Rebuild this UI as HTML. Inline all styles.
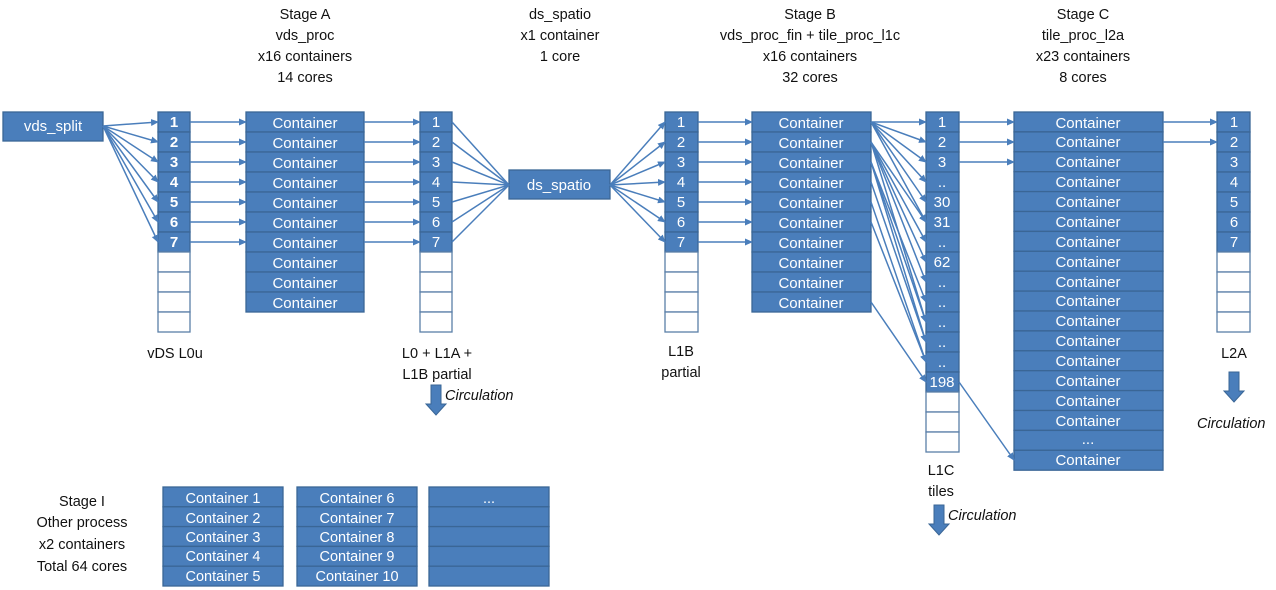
<!DOCTYPE html>
<html><head><meta charset="utf-8"><style>
html,body{margin:0;padding:0;background:#fff;width:1276px;height:590px;overflow:hidden}
svg{display:block}
text{font-family:"Liberation Sans",sans-serif;}
.h{font-size:14.5px;fill:#111;text-anchor:middle}
.w{font-size:15px;fill:#fff;text-anchor:middle}
.b{font-weight:bold}
.c{font-size:14.5px;fill:#fff;text-anchor:middle}
.i{font-size:14.5px;fill:#111;font-style:italic}
</style></head><body>
<svg id="s" width="1276" height="590" viewBox="0 0 1276 590" xmlns="http://www.w3.org/2000/svg">
<defs><marker id="a" markerWidth="8" markerHeight="8" refX="7" refY="4" orient="auto" markerUnits="userSpaceOnUse"><path d="M0,0.5 L8,4 L0,7.5 Z" fill="#4a7ebb"/></marker></defs>
<g id="shapes"></g>
<g id="lines" stroke="#4a7ebb" stroke-width="1.5" fill="none"></g>
<!-- headers -->
<text class="h" x="305" y="19">Stage A</text><text class="h" x="305" y="40">vds_proc</text><text class="h" x="305" y="61">x16 containers</text><text class="h" x="305" y="82">14 cores</text>
<text class="h" x="560" y="19">ds_spatio</text><text class="h" x="560" y="40">x1 container</text><text class="h" x="560" y="61">1 core</text>
<text class="h" x="810" y="19">Stage B</text><text class="h" x="810" y="40">vds_proc_fin +  tile_proc_l1c</text><text class="h" x="810" y="61">x16 containers</text><text class="h" x="810" y="82">32 cores</text>
<text class="h" x="1083" y="19">Stage C</text><text class="h" x="1083" y="40">tile_proc_l2a</text><text class="h" x="1083" y="61">x23 containers</text><text class="h" x="1083" y="82">8 cores</text>
<!-- labels -->
<text class="h" x="175" y="358">vDS L0u</text>
<text class="h" x="437" y="358">L0 + L1A +</text><text class="h" x="437" y="379">L1B partial</text>
<text class="h" x="681" y="356">L1B</text><text class="h" x="681" y="377">partial</text>
<text class="h" x="941" y="475">L1C</text><text class="h" x="941" y="496">tiles</text>
<text class="h" x="1234" y="358">L2A</text>
<text class="i" x="445" y="400">Circulation</text>
<text class="i" x="948" y="520">Circulation</text>
<text class="i" x="1197" y="428">Circulation</text>
<text class="h" x="82" y="506">Stage I</text><text class="h" x="82" y="527">Other process</text><text class="h" x="82" y="549">x2 containers</text><text class="h" x="82" y="571">Total 64 cores</text>
<g id="txt">
<text class="w" x="53" y="131">vds_split</text>
<text class="w" x="559" y="190">ds_spatio</text>
<text class="w b" x="174" y="127">1</text><text class="w b" x="174" y="147">2</text><text class="w b" x="174" y="167">3</text><text class="w b" x="174" y="187">4</text><text class="w b" x="174" y="207">5</text><text class="w b" x="174" y="227">6</text><text class="w b" x="174" y="247">7</text>
<text class="w" x="436" y="127">1</text><text class="w" x="436" y="147">2</text><text class="w" x="436" y="167">3</text><text class="w" x="436" y="187">4</text><text class="w" x="436" y="207">5</text><text class="w" x="436" y="227">6</text><text class="w" x="436" y="247">7</text>
<text class="w" x="681" y="127">1</text><text class="w" x="681" y="147">2</text><text class="w" x="681" y="167">3</text><text class="w" x="681" y="187">4</text><text class="w" x="681" y="207">5</text><text class="w" x="681" y="227">6</text><text class="w" x="681" y="247">7</text>
<text class="w" x="1234" y="127">1</text><text class="w" x="1234" y="147">2</text><text class="w" x="1234" y="167">3</text><text class="w" x="1234" y="187">4</text><text class="w" x="1234" y="207">5</text><text class="w" x="1234" y="227">6</text><text class="w" x="1234" y="247">7</text>
<text class="w" x="942" y="127">1</text><text class="w" x="942" y="147">2</text><text class="w" x="942" y="167">3</text><text class="w" x="942" y="187">..</text><text class="w" x="942" y="207">30</text><text class="w" x="942" y="227">31</text><text class="w" x="942" y="247">..</text><text class="w" x="942" y="267">62</text><text class="w" x="942" y="287">..</text><text class="w" x="942" y="307">..</text><text class="w" x="942" y="327">..</text><text class="w" x="942" y="347">..</text><text class="w" x="942" y="367">..</text><text class="w" x="942" y="387">198</text>
<text class="w" x="305" y="128">Container</text><text class="w" x="305" y="148">Container</text><text class="w" x="305" y="168">Container</text><text class="w" x="305" y="188">Container</text><text class="w" x="305" y="208">Container</text><text class="w" x="305" y="228">Container</text><text class="w" x="305" y="248">Container</text><text class="w" x="305" y="268">Container</text><text class="w" x="305" y="288">Container</text><text class="w" x="305" y="308">Container</text>
<text class="w" x="811" y="128">Container</text><text class="w" x="811" y="148">Container</text><text class="w" x="811" y="168">Container</text><text class="w" x="811" y="188">Container</text><text class="w" x="811" y="208">Container</text><text class="w" x="811" y="228">Container</text><text class="w" x="811" y="248">Container</text><text class="w" x="811" y="268">Container</text><text class="w" x="811" y="288">Container</text><text class="w" x="811" y="308">Container</text>
<text class="w" x="1088" y="128">Container</text><text class="w" x="1088" y="147">Container</text><text class="w" x="1088" y="167">Container</text><text class="w" x="1088" y="187">Container</text><text class="w" x="1088" y="207">Container</text><text class="w" x="1088" y="227">Container</text><text class="w" x="1088" y="247">Container</text><text class="w" x="1088" y="267">Container</text><text class="w" x="1088" y="287">Container</text><text class="w" x="1088" y="306">Container</text><text class="w" x="1088" y="326">Container</text><text class="w" x="1088" y="346">Container</text><text class="w" x="1088" y="366">Container</text><text class="w" x="1088" y="386">Container</text><text class="w" x="1088" y="406">Container</text><text class="w" x="1088" y="426">Container</text><text class="w" x="1088" y="444">...</text><text class="w" x="1088" y="465">Container</text>
<text class="c" x="223" y="503">Container 1</text><text class="c" x="223" y="523">Container 2</text><text class="c" x="223" y="542">Container 3</text><text class="c" x="223" y="561">Container 4</text><text class="c" x="223" y="581">Container 5</text>
<text class="c" x="357" y="503">Container 6</text><text class="c" x="357" y="523">Container 7</text><text class="c" x="357" y="542">Container 8</text><text class="c" x="357" y="561">Container 9</text><text class="c" x="357" y="581">Container 10</text>
<text class="c" x="489" y="503">...</text>
</g>
</svg>
<script>
var NS="http://www.w3.org/2000/svg",S=document.getElementById("shapes"),L=document.getElementById("lines");
function r(x,y,w,h,f){var e=document.createElementNS(NS,"rect");e.setAttribute("x",x);e.setAttribute("y",y);e.setAttribute("width",w);e.setAttribute("height",h);e.setAttribute("fill",f?"#4a7ebb":"#fff");e.setAttribute("stroke",f?"#3a6696":"#5b7fa8");e.setAttribute("stroke-width","1.3");S.appendChild(e);}
function l(x1,y1,x2,y2,ar){var e=document.createElementNS(NS,"line");e.setAttribute("x1",x1);e.setAttribute("y1",y1);e.setAttribute("x2",x2);e.setAttribute("y2",y2);if(ar!==false)e.setAttribute("marker-end","url(#a)");L.appendChild(e);}
function col(x,w,n,nb,h,y0){for(var i=0;i<n;i++)r(x,(y0||112)+i*(h||20),w,h||20,i<nb);}
r(3,112,100,29,true);r(509,170,101,29,true);
col(158,32,11,7);col(246,118,10,10);col(420,32,11,7);col(665,33,11,7);col(752,119,10,10);col(926,33,17,14);col(1014,149,18,18,19.9);col(1217,33,11,7);
for(var k=0;k<5;k++){r(163,487+k*19.8,120,19.8,true);r(297,487+k*19.8,120,19.8,true);r(429,487+k*19.8,120,19.8,true);}
function c(i){return 122+i*20;}
for(var i=0;i<7;i++){l(103,126,158,c(i));l(190,c(i),246,c(i));l(364,c(i),420,c(i));l(452,c(i),509,185,false);l(610,185,665,c(i));l(698,c(i),752,c(i));}
var m=[[0,[0,1,2,3,4]],[1,[5,6,7,8]],[2,[9,10]],[3,[11]],[4,[12]],[5,[12]],[9,[13]]];
m.forEach(function(p){p[1].forEach(function(j){l(871,c(p[0]),926,c(j));});});
l(871,c(0),926,c(5));l(871,c(1),926,c(10));l(871,c(2),926,c(11));
for(var i=0;i<3;i++)l(959,c(i),1014,c(i));
l(1163,c(0),1217,c(0));l(1163,c(1),1217,c(1));
l(959,382,1014,460);
function ba(x,y){var e=document.createElementNS(NS,"path");e.setAttribute("d","M"+(x-5)+","+y+" h10 v19 h5 l-10,11 l-10,-11 h5 Z");e.setAttribute("fill","#4a7ebb");e.setAttribute("stroke","#3a6696");S.appendChild(e);}
ba(436,385);ba(939,505);ba(1234,372);
</script>
</body></html>
